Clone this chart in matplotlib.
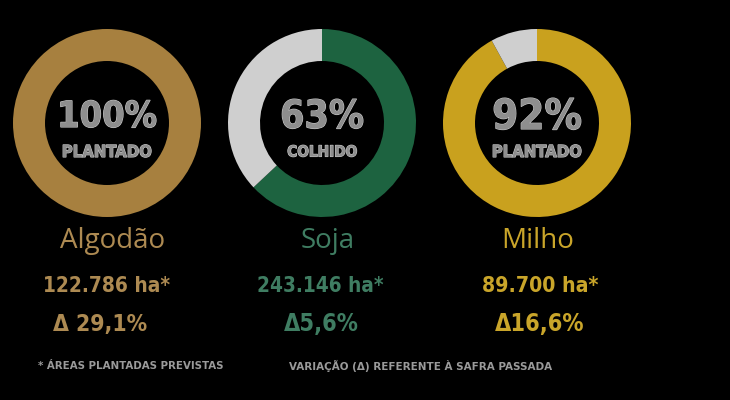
import numpy as np
import matplotlib.pyplot as plt
import matplotlib.patheffects as pe

# data
crops = ['Algodão', 'Soja', 'Milho']
pct = [100, 63, 92]
status = ['PLANTADO', 'COLHIDO', 'PLANTADO']
areas = ['122.786 ha*', '243.146 ha*', '89.700 ha*']
varia = ['\u0394 29,1%', '\u03945,6%', '\u039416,6%']
colours = ['#A7803F', '#1D6340', '#C9A11E']
txt_cols = ['#AD8A52', '#3F7D62', '#C9A52A']
rest_col = '#CFCFCF'
notes = ['* ÁREAS PLANTADAS PREVISTAS', 'VARIAÇÃO (\u0394) REFERENTE À SAFRA PASSADA']

cond = dict(family='DejaVu Sans', fontstretch='condensed', fontweight='bold')

fig = plt.figure(figsize=(7.3, 4.0), dpi=100, facecolor='black')
ax = fig.add_axes([0, 0, 1, 1])
ax.set_facecolor('black')
rend = fig.canvas.get_renderer()


def fit(x, y, s, w, size, **kw):
    # shrink the font until the text is w pixels wide
    t = ax.text(x, 400 - y, s, ha='center', va='center', fontsize=size, **kw)
    tw = t.get_window_extent(rend).width
    if tw > w:
        t.set_fontsize(size * w / tw)
    return t


cx = [107, 322, 537]
cy = 400 - 123
R = 94
outline = [pe.withStroke(linewidth=0.8, foreground='#C8C8C8')]
num_w = [100, 84, 90]
stat_w = [90, 70, 90]
lab_x = [113, 328, 538]
area_x = [107, 320, 540]
area_w = [127, 126, 116]
var_x = [100, 321, 540]
var_w = [94, 75, 90]

for i in range(len(crops)):
    ax.pie([pct[i], 100 - pct[i]], colors=[colours[i], rest_col],
           startangle=90, counterclock=False, center=(cx[i], cy), radius=R,
           wedgeprops=dict(width=32, edgecolor='none'))
    fit(cx[i], 117, '%d%%' % pct[i], num_w[i], 40, color='#8E8E8E',
        path_effects=outline, **cond)
    fit(cx[i], 152, status[i], stat_w[i], 20, color='#8E8E8E',
        path_effects=outline, **cond)
    ax.text(lab_x[i], 400 - 241, crops[i], ha='center', va='center',
            fontsize=20, family=['Open Sans', 'DejaVu Sans'], color=txt_cols[i])
    fit(area_x[i], 286, areas[i], area_w[i], 22, color=txt_cols[i], **cond)
    fit(var_x[i], 324, varia[i], var_w[i], 22, color=txt_cols[i], **cond)

fit(131, 366, notes[0], 186, 12, color='#9A9A9A', **cond)
fit(421, 366, notes[1], 262, 12, color='#9A9A9A', **cond)

ax.set_xlim(0, 730)
ax.set_ylim(0, 400)
ax.set_aspect('equal')
ax.axis('off')

fig.savefig('out.png', dpi=100, facecolor='black')
